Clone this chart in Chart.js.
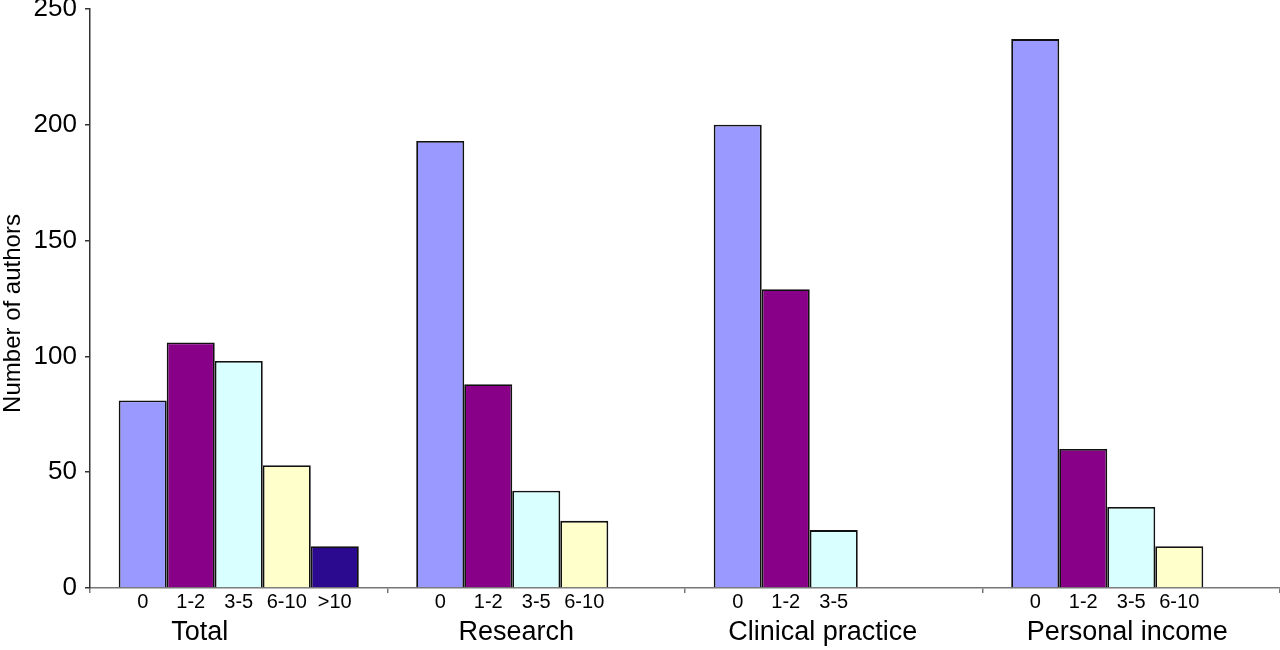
<!DOCTYPE html>
<html>
<head>
<meta charset="utf-8">
<script src="https://cdn.jsdelivr.net/npm/chart.js@4"></script>
<style>
html,body{margin:0;padding:0;background:#fff;}
#wrap{width:1280px;height:650px;position:relative;}
</style>
</head>
<body>
<div id="wrap"><canvas id="c"></canvas></div>
<script>
const groups = ["Total", "Research", "Clinical practice", "Personal income"];
const bins = ["0", "1-2", "3-5", "6-10", ">10"];
const v0    = [81, 193, 200, 237];
const v12   = [106, 88, 129, 60];
const v35   = [98, 42, 25, 35];
const v610  = [53, 29, null, 18];
const vgt10 = [18, null, null, null];
const yTicks = [0, 50, 100, 150, 200, 250];
const yTitle = "Number of authors";

const colors = ["#9999FF", "#880088", "#D9FFFF", "#FFFFCC", "#2B0A8F"];
const series = [v0, v12, v35, v610, vgt10];

const FONT = "'Liberation Sans', Arial, sans-serif";

// style: horizontal nudge of each group caption relative to its category centre (px)
const CAPTION_NUDGE = [-39, -20, -11, -4];

const axisLabels = {
  id: 'axisLabels',
  afterDraw(chart) {
    const ctx = chart.ctx;
    const area = chart.chartArea;
    const bottom = area.bottom;
    const xs = chart.scales.x;
    ctx.save();
    ctx.fillStyle = "#000";
    ctx.textAlign = "center";
    ctx.textBaseline = "middle";
    ctx.font = "20px " + FONT;
    chart.data.datasets.forEach((ds, i) => {
      const meta = chart.getDatasetMeta(i);
      meta.data.forEach((el, j) => {
        if (ds.data[j] === null || ds.data[j] === undefined) return;
        ctx.fillText(ds.label, el.x, bottom + 14);
      });
    });
    ctx.font = "27px " + FONT;
    chart.data.labels.forEach((lab, i) => {
      ctx.fillText(lab, xs.getPixelForValue(i) + CAPTION_NUDGE[i], bottom + 45);
    });
    // y-axis title
    ctx.font = "24px " + FONT;
    ctx.translate(13, (area.top + area.bottom) / 2 + 15);
    ctx.rotate(-Math.PI / 2);
    ctx.fillText(yTitle, 0, 0);
    ctx.restore();
  }
};

new Chart(document.getElementById('c'), {
  type: 'bar',
  data: {
    labels: groups,
    datasets: bins.map((b, i) => ({
      label: b,
      data: series[i],
      backgroundColor: colors[i],
      borderColor: "#111",
      borderWidth: 1.8,
      borderSkipped: 'bottom',
      categoryPercentage: 0.807,
      barPercentage: 1.0
    }))
  },
  options: {
    responsive: true,
    maintainAspectRatio: false,
    animation: false,
    layout: { padding: 0 },
    plugins: {
      legend: { display: false },
      tooltip: { enabled: false }
    },
    scales: {
      x: {
        grid: { display: true, drawOnChartArea: false, drawTicks: true, tickLength: 5, color: "#777", offset: true, lineWidth: 1.5 },
        border: { display: true, color: "#777", width: 1.5 },
        ticks: { display: false },
        afterFit(scale) { scale.height = 62; scale.paddingLeft = 0; scale.paddingRight = 0; }
      },
      y: {
        min: 0, max: 250,
        afterBuildTicks(scale) { scale.ticks = yTicks.map(v => ({ value: v })); },
        grid: { display: true, drawOnChartArea: false, drawTicks: true, tickLength: 5, color: "#333", lineWidth: 1.5 },
        border: { display: true, color: "#333", width: 1.5 },
        ticks: { font: { family: FONT, size: 26 }, color: "#000", padding: 8 },
        title: { display: false },
        afterFit(scale) { scale.width = 90; scale.paddingTop = 9; scale.paddingBottom = 0; }
      }
    }
  },
  plugins: [axisLabels]
});
</script>
</body>
</html>
